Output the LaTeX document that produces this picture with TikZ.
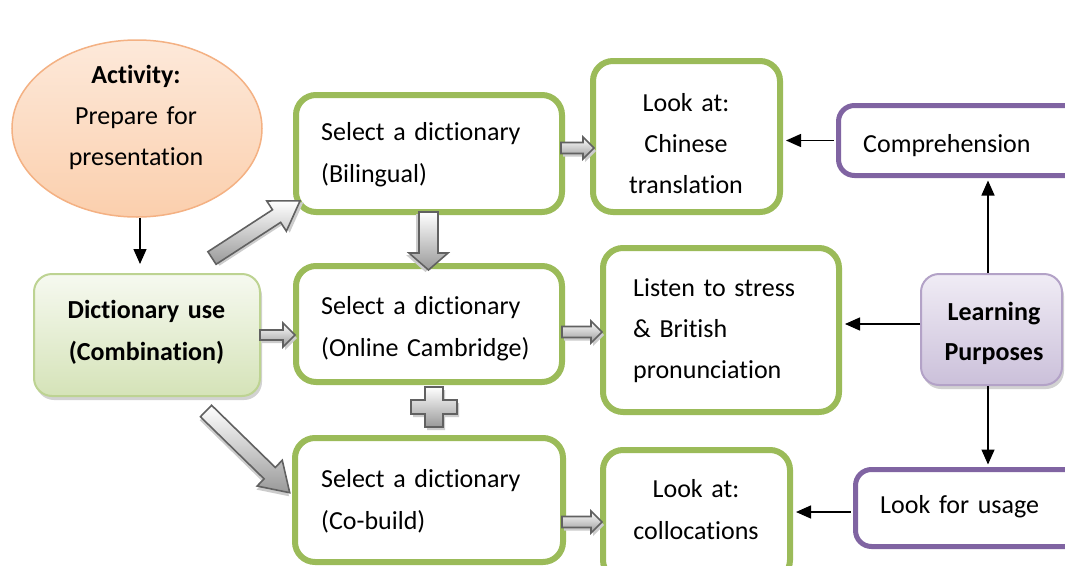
\documentclass[tikz,border=0pt]{standalone}
\usepackage{fontspec}
\setmainfont{Carlito}[Ligatures=NoCommon]
\usetikzlibrary{arrows.meta,shapes.geometric,shadows,calc}
\definecolor{gbord}{HTML}{9BBB59}
\definecolor{pbord}{HTML}{8064A2}
\definecolor{dicdraw}{HTML}{BDD392}
\definecolor{dictop}{HTML}{F6F9F0}
\definecolor{dicbot}{HTML}{D5E3B8}
\definecolor{lpdraw}{HTML}{B3A2C7}
\definecolor{lptop}{HTML}{F0ECF5}
\definecolor{lpbot}{HTML}{CBC0DA}
\definecolor{elltop}{HTML}{FDE9DA}
\definecolor{ellbot}{HTML}{FBCFAD}
\definecolor{elldraw}{HTML}{F4B183}
\tikzset{
  pics/barrow/.style n args={4}{code={
    \fill[black!20] (2,{-#2+3}) -- ({#1-#4+2},{-#2+3}) -- ({#1-#4+2},{-#3+3}) -- ({#1+2},3) -- ({#1-#4+2},{#3+3}) -- ({#1-#4+2},{#2+3}) -- (2,{#2+3}) -- cycle;
    \shade[barrowfill] (0,-#2) -- ({#1-#4},-#2) -- ({#1-#4},-#3) -- (#1,0) -- ({#1-#4},#3) -- ({#1-#4},#2) -- (0,#2) -- cycle;
  }}
}
\begin{document}
\begin{tikzpicture}[x=1pt,y=-1pt,
  gbox/.style={draw=gbord, line width=6pt, rounded corners=20pt, fill=white, inner sep=0pt},
  pbox/.style={draw=pbord, line width=5pt, rounded corners=16pt, fill=white, inner sep=0pt},
  txt/.style={font=\fontsize{26}{41}\selectfont, inner sep=0pt, text width=#1},
  txt/.default=250pt,
  conn/.style={line width=1.4pt, -{Triangle[length=15pt,width=13pt]}},
  barrowfill/.style={top color=white, bottom color=black!40, draw=black!62, line width=1.6pt, line join=miter},
]
\useasboundingbox (0,0) rectangle (1065,565);
\fill[white] (0,0) rectangle (1065,565);
\clip (0,0) rectangle (1065,565);

% shapes
\node[ellipse, minimum width=250pt, minimum height=177pt, inner sep=0pt,
      top color=elltop, bottom color=ellbot, draw=elldraw, line width=1.5pt] (ell) at (137,128.5) {};
\node[rounded corners=18pt, minimum width=226pt, minimum height=122pt, inner sep=0pt,
      top color=dictop, bottom color=dicbot, draw=dicdraw, line width=2pt,
      drop shadow={shadow xshift=2pt, shadow yshift=-4pt, fill=black!35, opacity=0.5}] (dic) at (147,335) {};
\node[gbox, minimum width=266pt, minimum height=117pt] (bil) at (429,153.5) {};
\node[gbox, minimum width=266pt, minimum height=116pt] (mid) at (429,324) {};
\node[gbox, minimum width=268pt, minimum height=124pt] (cob) at (429,500) {};
\node[gbox, minimum width=187pt, minimum height=151pt] (chi) at (686.5,136.5) {};
\node[gbox, minimum width=236pt, minimum height=164pt] (lis) at (721,330) {};
\node[gbox, minimum width=187pt, minimum height=130pt] (col) at (696.5,515) {};
\node[pbox, minimum width=251pt, minimum height=70pt] (com) at (964,140.5) {};
\node[pbox, minimum width=234pt, minimum height=77pt] (lfu) at (972.5,508) {};
\node[rounded corners=18pt, minimum width=141pt, minimum height=111pt, inner sep=0pt,
      top color=lptop, bottom color=lpbot, draw=lpdraw, line width=2pt,
      drop shadow={shadow xshift=2pt, shadow yshift=-4pt, fill=black!35, opacity=0.5}] (lp) at (991.5,329.5) {};

% texts
\node[txt=230pt, align=center, anchor=base] (tell) at (136,83) {{\bfseries Activity:}\\Prepare for\\presentation};
\node[txt=220pt, align=center, anchor=base, font=\fontsize{26}{42}\selectfont\bfseries] (tdic) at (146.5,318) {Dictionary use\\(Combination)};
\node[txt, align=left, anchor=base west, font=\fontsize{26}{42}\selectfont] (tbil) at (321,140) {Select a dictionary\\(Bilingual)};
\node[txt, align=left, anchor=base west, font=\fontsize{26}{42}\selectfont] (tmid) at (321,314) {Select a dictionary\\(Online Cambridge)};
\node[txt, align=left, anchor=base west, font=\fontsize{26}{42}\selectfont] (tcob) at (321,487) {Select a dictionary\\(Co-build)};
\node[txt=180pt, align=center, anchor=base] (tchi) at (686,111) {Look at:\\Chinese\\translation};
\node[txt, align=left, anchor=base west] (tlis) at (633,296) {Listen to stress\\\& British\\pronunciation};
\node[txt=180pt, align=center, anchor=base, font=\fontsize{26}{42}\selectfont] (tcol) at (696,497.5) {Look at:\\collocations};
\node[txt=200pt, align=left, anchor=base west] (tcom) at (863,152) {Comprehension};
\node[txt=140pt, align=center, anchor=base, font=\fontsize{26}{40}\selectfont\bfseries] (tlp) at (994,320) {Learning\\Purposes};
\node[txt=200pt, align=left, anchor=base west] (tlfu) at (880,513) {Look for usage};

% thin connectors
\coordinate (vx) at (988,0);
\coordinate (vx2) at (140,0);
\coordinate (hy) at (0,324);
\coordinate (hy2) at (0,512);
\draw[conn, shorten >=2.5pt] (lp.north -| vx) -- (com.south -| vx);
\draw[conn, shorten >=2.5pt] (lp.south -| vx) -- (lfu.north -| vx);
\draw[conn, shorten >=3pt] (lp.west |- hy) -- (lis.east |- hy);
\draw[conn, shorten >=3pt, shorten <=2.5pt] (com.west) -- (com.west -| chi.east);
\draw[conn, shorten >=3pt, shorten <=2.5pt] (lfu.west |- hy2) -- (col.east |- hy2);
\draw[conn, shorten >=9pt] (ell.south -| vx2) -- (dic.north -| vx2);

% block arrows
\pic at (260,335) {barrow={35}{5}{12}{12}};
\pic at (561,148) {barrow={33}{5.5}{11}{11}};
\pic at (562,332) {barrow={40}{5.5}{11}{11}};
\pic at (562,522) {barrow={40}{5.5}{11}{11}};
\pic[rotate=-90] at (428.5,212) {barrow={58}{9.5}{19.5}{17}};
\pic[rotate=33] at (212,258) {barrow={105}{7.5}{18}{28}};
\pic[rotate=-44.3] at (206,411) {barrow={117}{8}{18}{28}};

% plus sign
\fill[black!20, shift={(436,410)}] (-9,-20) -- (9,-20) -- (9,-7) -- (23,-7) -- (23,7) -- (9,7) -- (9,20) -- (-9,20) -- (-9,7) -- (-23,7) -- (-23,-7) -- (-9,-7) -- cycle;
\shade[barrowfill, shift={(434,407)}] (-9,-20) -- (9,-20) -- (9,-7) -- (23,-7) -- (23,7) -- (9,7) -- (9,20) -- (-9,20) -- (-9,7) -- (-23,7) -- (-23,-7) -- (-9,-7) -- cycle;
\end{tikzpicture}
\end{document}
